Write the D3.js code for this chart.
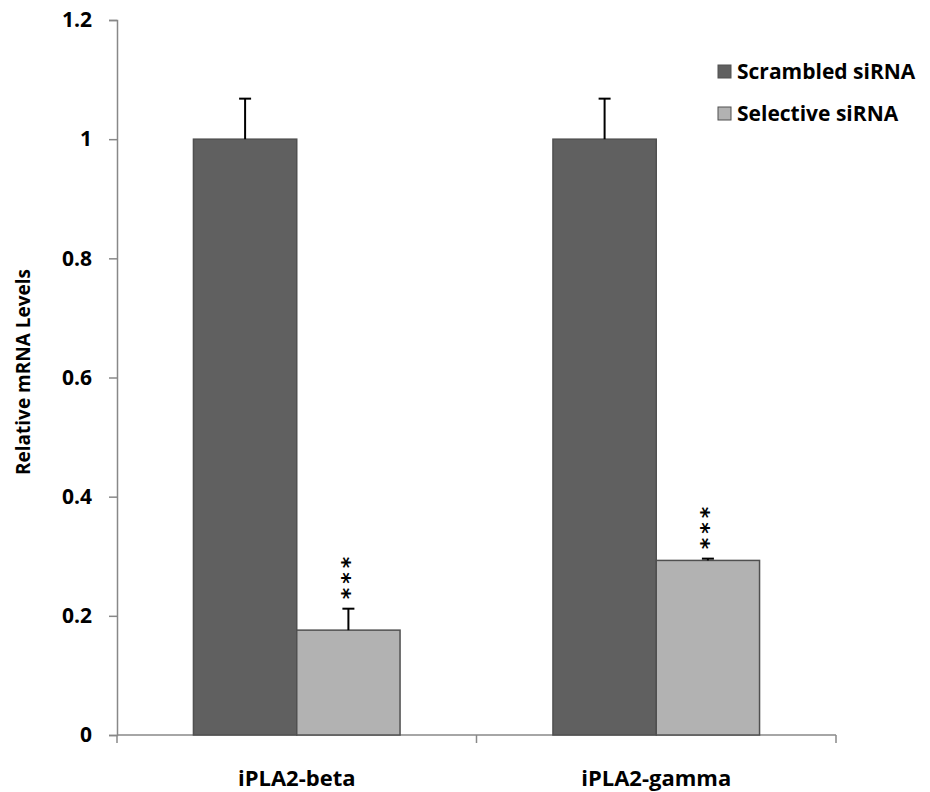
<!DOCTYPE html>
<html>
<head>
<meta charset="utf-8">
<script src="https://cdn.jsdelivr.net/npm/d3@7"></script>
<style>
  body { margin: 0; background: #fff; }
  text { font-family: "Open Sans", Lato, sans-serif; font-weight: bold; fill: #000; }
</style>
</head>
<body>
<div id="chart"></div>
<script>
const categories = ['iPLA2-beta', 'iPLA2-gamma'];
const seriesNames = ['Scrambled siRNA', 'Selective siRNA'];
const scrambled = [1.0, 1.0];
const scrambledErr = [0.068, 0.068];
const selective = [0.176, 0.293];
const selectiveErr = [0.036, 0.003];
const yTicks = [0, 0.2, 0.4, 0.6, 0.8, 1, 1.2];
const colors = ['#606060', '#b2b2b2'];

const width = 930, height = 792;
const margin = { left: 117, right: 94, top: 20, bottom: 57 };

const svg = d3.select('#chart').append('svg')
    .attr('width', width)
    .attr('height', height);

const x0 = d3.scaleBand()
    .domain(categories)
    .range([margin.left, width - margin.right])
    .paddingInner(0)
    .paddingOuter(0);

const x1 = d3.scaleBand()
    .domain(seriesNames)
    .range([0, x0.bandwidth()])
    .paddingInner(0)
    .paddingOuter(0.74);

const y = d3.scaleLinear()
    .domain([0, 1.2])
    .range([height - margin.bottom, margin.top]);

// y axis
const yAxis = svg.append('g')
    .attr('transform', `translate(${margin.left},0)`)
    .call(d3.axisLeft(y).tickValues(yTicks).tickSize(8).tickPadding(17)
        .tickFormat(d => d3.format('')(d)));
yAxis.selectAll('line, path').attr('stroke', '#888').attr('stroke-width', 1.5);
yAxis.selectAll('text').style('font-size', '21px');

// x axis
const xAxis = svg.append('g')
    .attr('transform', `translate(0,${y(0)})`);
xAxis.append('line')
    .attr('x1', margin.left).attr('x2', width - margin.right)
    .attr('stroke', '#888').attr('stroke-width', 1.5);
const xt = [margin.left, ...categories.slice(1).map(c => x0(c)), width - margin.right];
xAxis.selectAll('.xt').data(xt).enter().append('line')
    .attr('x1', d => d).attr('x2', d => d)
    .attr('y1', 0).attr('y2', 8)
    .attr('stroke', '#888').attr('stroke-width', 1.5);
xAxis.selectAll('.xl').data(categories).enter().append('text')
    .attr('x', d => x0(d) + x0.bandwidth() / 2)
    .attr('y', 51)
    .attr('text-anchor', 'middle')
    .style('font-size', '22px')
    .text(d => d);

// bars
const data = categories.map((c, i) => ({
    cat: c,
    vals: [
        { s: seriesNames[0], v: scrambled[i], e: scrambledErr[i], k: 0, star: false },
        { s: seriesNames[1], v: selective[i], e: selectiveErr[i], k: 1, star: true }
    ]
}));

const groups = svg.selectAll('.grp').data(data).enter().append('g')
    .attr('transform', d => `translate(${x0(d.cat)},0)`);

const bars = groups.selectAll('.b').data(d => d.vals).enter();

bars.append('rect')
    .attr('x', d => x1(d.s))
    .attr('y', d => y(d.v))
    .attr('width', x1.bandwidth())
    .attr('height', d => y(0) - y(d.v))
    .attr('fill', d => colors[d.k])
    .attr('stroke', '#505050')
    .attr('stroke-width', 1.5);

// error bars
bars.append('line')
    .attr('x1', d => x1(d.s) + x1.bandwidth() / 2)
    .attr('x2', d => x1(d.s) + x1.bandwidth() / 2)
    .attr('y1', d => y(d.v))
    .attr('y2', d => y(d.v + d.e))
    .attr('stroke', '#000').attr('stroke-width', 2);
bars.append('line')
    .attr('x1', d => x1(d.s) + x1.bandwidth() / 2 - 6)
    .attr('x2', d => x1(d.s) + x1.bandwidth() / 2 + 6)
    .attr('y1', d => y(d.v + d.e))
    .attr('y2', d => y(d.v + d.e))
    .attr('stroke', '#000').attr('stroke-width', 2);

// significance asterisks: one text, turned so the three stars stack
groups.selectAll('.star').data(d => d.vals.filter(v => v.star)).enter()
  .append('text')
    .attr('transform', d => `translate(${x1(d.s) + x1.bandwidth() / 2},${y(d.v + d.e) - 52}) rotate(90)`)
    .attr('dy', '0.62em')
    .style('font-size', '22px')
    .style('letter-spacing', '4px')
    .style('font-family', '"DejaVu Sans", sans-serif')
    .text('***');

// y label
svg.append('text')
    .attr('transform', `translate(30,${372}) rotate(-90)`)
    .attr('text-anchor', 'middle')
    .style('font-size', '19px')
    .text('Relative mRNA Levels');

// legend
const legend = svg.selectAll('.lg').data(seriesNames).enter().append('g')
    .attr('transform', (d, i) => `translate(718,${65 + i * 42})`);
legend.append('rect')
    .attr('width', 13).attr('height', 13)
    .attr('fill', (d, i) => colors[i])
    .attr('stroke', '#505050').attr('stroke-width', 1);
legend.append('text')
    .attr('x', 19).attr('y', 14)
    .style('font-size', '21px')
    .text(d => d);
</script>
</body>
</html>
